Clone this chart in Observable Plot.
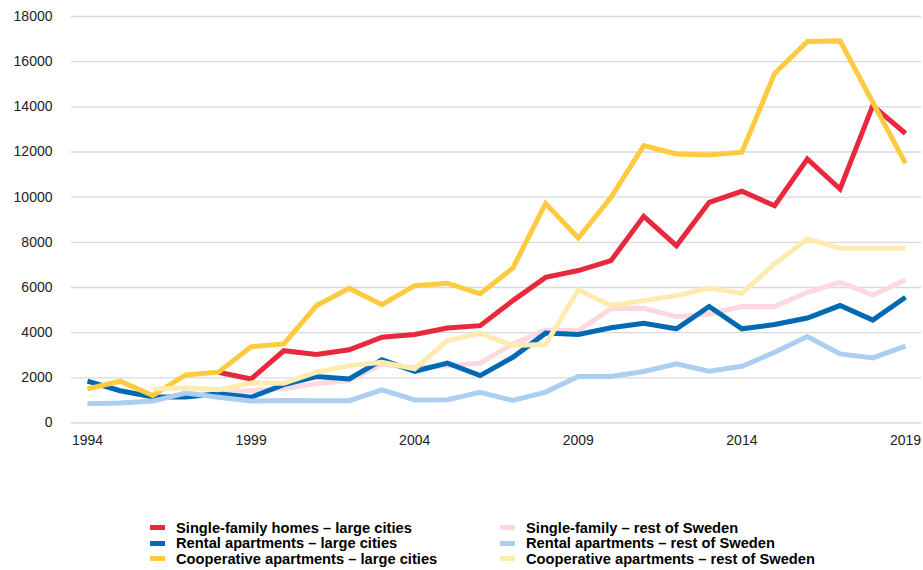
<!DOCTYPE html>
<html>
<head>
<meta charset="utf-8">
<script src="https://cdn.jsdelivr.net/npm/d3@7"></script>
<script src="https://cdn.jsdelivr.net/npm/@observablehq/plot@0.6"></script>
<style>
  body { margin: 0; background: #fff; font-family: "Liberation Sans", Arial, sans-serif; }
  #chart svg { display: block; }
  #legend { position: relative; height: 110px; font-weight: bold; font-size: 14.7px; color: #000; }
  .item { position: absolute; display: flex; align-items: center; height: 15px; white-space: nowrap; }
  .sw { width: 15px; height: 5px; margin-right: 11px; }
</style>
</head>
<body>
<div id="chart"></div>
<div id="legend"></div>
<script>
const years = d3.range(1994, 2020);
const seriesNames = [
  "Single-family homes – large cities",
  "Rental apartments – large cities",
  "Cooperative apartments – large cities",
  "Single-family – rest of Sweden",
  "Rental apartments – rest of Sweden",
  "Cooperative apartments – rest of Sweden"
];
const colors = ["#e8283c", "#0069b4", "#fecb40", "#fdd9df", "#abcef1", "#feebb0"];

// values per year 1994..2019 (null = no data)
const singleLarge = [null, null, null, null, 2250, 1950, 3200, 3030, 3240, 3800, 3920, 4210, 4310, 5420, 6450, 6750, 7190, 9150, 7850, 9770, 10260, 9620, 11690, 10360, 14050, 12820];
const rentalLarge = [1850, 1430, 1150, 1150, 1290, 1140, 1700, 2060, 1950, 2800, 2290, 2650, 2100, 2910, 3980, 3920, 4220, 4420, 4170, 5160, 4170, 4360, 4650, 5200, 4560, 5570];
const coopLarge = [1510, 1850, 1220, 2130, 2250, 3380, 3500, 5200, 5960, 5240, 6080, 6190, 5720, 6860, 9720, 8190, 9990, 12280, 11910, 11870, 11990, 15480, 16890, 16920, 14200, 11500];
const singleRest = [null, null, null, null, 1300, 1440, 1530, 1740, 1880, 2600, 2450, 2540, 2650, 3500, 4120, 4090, 5060, 5080, 4710, 4830, 5160, 5160, 5790, 6230, 5670, 6330];
const rentalRest = [850, 890, 970, 1330, 1140, 970, 1000, 990, 990, 1470, 1020, 1030, 1360, 1000, 1370, 2060, 2060, 2280, 2620, 2290, 2510, 3130, 3830, 3060, 2880, 3400];
const coopRest = [null, null, 1510, 1560, 1470, 1770, 1760, 2250, 2540, 2690, 2400, 3650, 3970, 3430, 3480, 5890, 5200, 5420, 5640, 5980, 5740, 7050, 8150, 7740, 7740, 7740];
const xTicks = [1994, 1999, 2004, 2009, 2014, 2019];
const yTicks = d3.range(0, 18001, 2000);

const allSeries = [singleLarge, rentalLarge, coopLarge, singleRest, rentalRest, coopRest];
const drawOrder = [3, 1, 4, 0, 2, 5];

const data = [];
for (const i of drawOrder) {
  allSeries[i].forEach((v, j) => data.push({series: seriesNames[i], year: years[j], value: v, order: i}));
}

const lines = drawOrder.map(i => Plot.line(data.filter(d => d.order === i), {
  x: "year", y: "value", stroke: colors[i], strokeWidth: 5,
  strokeLinejoin: "miter", strokeLinecap: "butt", strokeMiterlimit: 4,
  defined: d => d.value != null
}));

const chart = Plot.plot({
  width: 923,
  height: 460,
  marginLeft: 71,
  marginRight: 2,
  marginTop: 16,
  marginBottom: 37.5,
  style: {fontFamily: "'Liberation Sans', Arial, sans-serif", fontSize: "14px", color: "#222"},
  x: {domain: [1994, 2019], insetLeft: 16, insetRight: 16},
  y: {domain: [0, 18000]},
  marks: [
    Plot.gridY(yTicks, {stroke: "#d9d9d9", strokeOpacity: 1, strokeWidth: 1.3}),
    Plot.axisY(yTicks, {tickSize: 0, tickPadding: 19, tickFormat: d => String(d), label: null, fill: "#222"}),
    Plot.axisX(xTicks, {tickSize: 0, tickPadding: 12, tickFormat: d => String(d), label: null, fill: "#222"}),
    ...lines
  ]
});
document.getElementById("chart").appendChild(chart);

const legend = document.getElementById("legend");
const cols = [150, 500];
const rows = [60, 75.5, 91];
seriesNames.forEach((name, i) => {
  const col = Math.floor(i / 3), row = i % 3;
  const el = document.createElement("div");
  el.className = "item";
  el.style.left = cols[col] + "px";
  el.style.top = rows[row] + "px";
  el.innerHTML = `<span class="sw" style="background:${colors[i]}"></span><span>${name}</span>`;
  legend.appendChild(el);
});
</script>
</body>
</html>
